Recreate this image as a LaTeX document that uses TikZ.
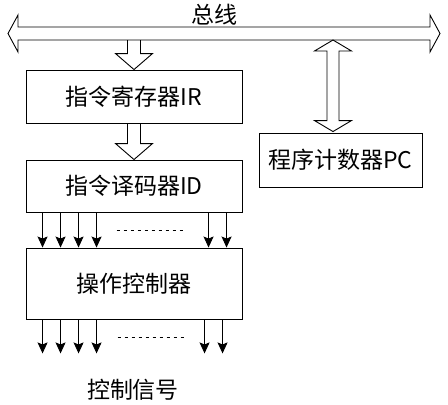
\documentclass[tikz,border=0pt]{standalone}
\usepackage{fontspec}
\setmainfont{Noto Sans CJK SC}
\usetikzlibrary{arrows.meta,calc,positioning}

% hollow block arrow pointing down, from #1 to tip #2
\newcommand\hollowdown[2]{%
  \draw[hollow] ($(#1)+(-6.5,0)$) -- ($(#2)+(-6.5,-16)$) -- ($(#2)+(-18.5,-16)$) -- (#2)
    -- ($(#2)+(18.5,-16)$) -- ($(#2)+(6.5,-16)$) -- ($(#1)+(6.5,0)$);}

\begin{document}
\begin{tikzpicture}[x=1pt, y=-1pt, line width=0.9pt,
    every node/.style={font=\fontsize{23}{26}\selectfont},
    box/.style={draw, minimum width=216pt, inner sep=0pt},
    hollow/.style={draw, line join=miter},
    sig/.style={-{Stealth[length=11pt,width=10pt,inset=2pt]}},
    dots/.style={line width=0.8pt, dash pattern=on 3.5pt off 3.5pt}]
    \useasboundingbox (0,0) rectangle (448,405);
    % bus
    \coordinate (busL) at (8,33.5);
    \coordinate (busR) at (440,33.5);
    \coordinate (busB) at (224,40);
    \draw[hollow] (busL) -- ($(busL)+(10,-18.5)$) -- ($(busL)+(10,-6.5)$) -- ($(busR)+(-10,-6.5)$)
      -- ($(busR)+(-10,-18.5)$) -- (busR) -- ($(busR)+(-10,18.5)$) -- ($(busR)+(-10,6.5)$)
      -- ($(busL)+(10,6.5)$) -- ($(busL)+(10,18.5)$) -- cycle;
    \node (buslbl) at (214,15) {总线};
    % boxes
    \node[box, minimum height=53pt] (ir) at (134,96.5) {指令寄存器IR};
    \node[box, minimum height=52pt] (id) at (134,186) {指令译码器ID};
    \node[box, minimum height=71pt] (ctrl) at (134,283.5) {操作控制器};
    \node[box, minimum width=163pt, minimum height=54pt] (pc) at (340.5,160) {程序计数器PC};
    \node (sigtxt) at (133,390) {控制信号};
    % block arrows
    \hollowdown{ir.north |- busB}{ir.north}
    \hollowdown{ir.south}{id.north}
    \coordinate (pcB) at ($(pc.north)+(-7.5,-1)$);
    \coordinate (pcT) at (pcB |- busB);
    \draw[hollow] (pcT) -- ($(pcT)+(18.5,11)$) -- ($(pcT)+(6,11)$) -- ($(pcB)+(6,-11)$)
      -- ($(pcB)+(18.5,-11)$) -- (pcB) -- ($(pcB)+(-18.5,-11)$) -- ($(pcB)+(-6,-11)$)
      -- ($(pcT)+(-6,11)$) -- ($(pcT)+(-18.5,11)$) -- cycle;
    % signal lines
    \foreach \d in {17,35,53,71,183,201}
      \draw[sig] ($(id.south west)+(\d,0)$) -- ($(ctrl.north west)+(\d,0)$);
    \foreach \d in {17,35,53,71,179,197}
      \draw[sig] ($(ctrl.south west)+(\d,0)$) -- ($(ctrl.south west)+(\d,34)$);
    \draw[dots] ($(id.south west)+(91,18)$) -- ++(70,0);
    \draw[dots] ($(ctrl.south west)+(92,18)$) -- ++(69,0);
\end{tikzpicture}
\end{document}
